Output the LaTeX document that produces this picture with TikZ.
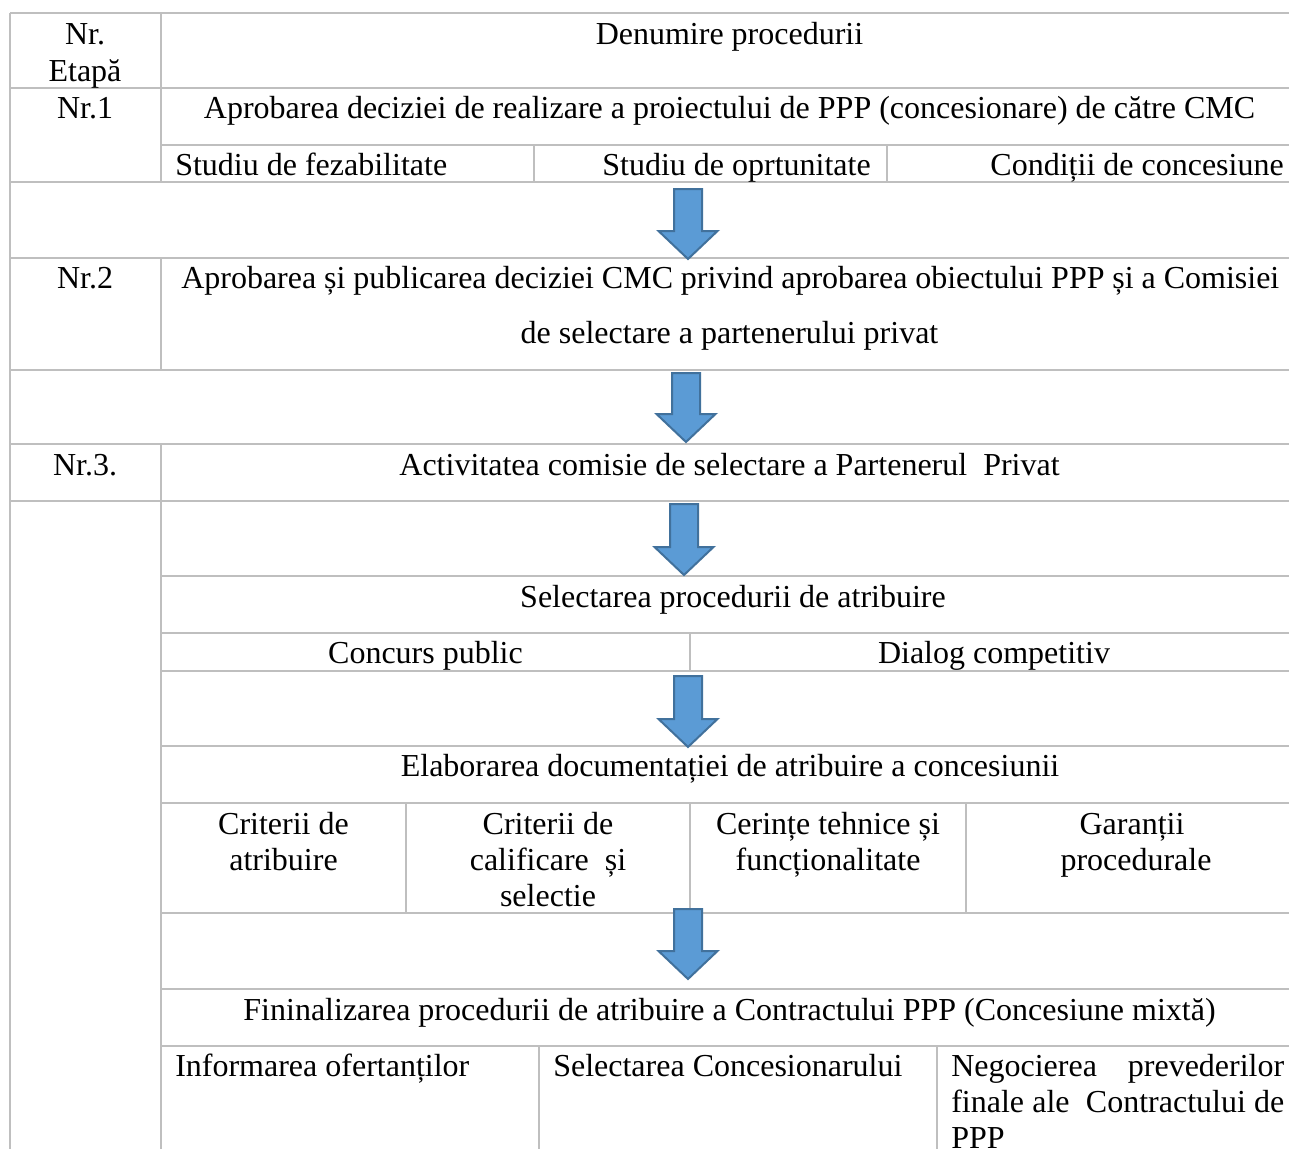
\documentclass[tikz,border=0pt]{standalone}
\usepackage{fontspec}
\setmainfont{Liberation Serif}
\newdimen\pxu \pxu=0.75pt
\definecolor{gridgray}{HTML}{BFBFBF}
\definecolor{arrowblue}{HTML}{5B9BD5}
\definecolor{arrowedge}{HTML}{41719C}
\newcommand\blockarrow[3]{% center x, top y, tip y
  \draw[downarrow] ({#1-14},#2) -- ({#1+14},#2) -- ({#1+14},{#3-28}) -- ({#1+29.5},{#3-28})
    -- (#1,#3) -- ({#1-29.5},{#3-28}) -- ({#1-14},{#3-28}) -- cycle;}
\begin{document}
\begin{tikzpicture}[x=0.75pt,y=-0.75pt,
  grid/.style={draw=gridgray, line width=1pt},
  txt/.style={inner sep=0, anchor=base, font=\fontsize{24}{27.5}\selectfont},
  txtl/.style={txt, anchor=base west},
  txtr/.style={txt, anchor=base east},
  downarrow/.style={fill=arrowblue, draw=arrowedge, line width=1.5pt, line join=miter}]
\useasboundingbox (0,0) rectangle (1289,1149);
\clip (0,0) rectangle (1289,1149);
\fill[white] (0,0) rectangle (1289,1149);
% horizontal grid lines
\foreach \yy in {13,88,182,258,370,444,501}
  \draw[grid] (10,\yy) -- (1289,\yy);
\foreach \yy in {145,576,633,671,746,803,913,989,1046}
  \draw[grid] (161,\yy) -- (1289,\yy);
% vertical grid lines
\draw[grid] (10,13) -- (10,1149);
\draw[grid] (161,13) -- (161,182);
\draw[grid] (161,258) -- (161,370);
\draw[grid] (161,444) -- (161,1149);
\draw[grid] (534,145) -- (534,182);
\draw[grid] (887,145) -- (887,182);
\draw[grid] (690,633) -- (690,671);
\draw[grid] (406,803) -- (406,913);
\draw[grid] (690,803) -- (690,913);
\draw[grid] (966,803) -- (966,913);
\draw[grid] (539,1046) -- (539,1149);
\draw[grid] (937,1046) -- (937,1149);
% arrows
\blockarrow{688}{189}{259}
\blockarrow{686}{373}{442}
\blockarrow{684}{504}{575}
\blockarrow{688}{676}{747}
\blockarrow{688}{909}{979}
% header
\node[txt] (nr) at (85,45) {Nr.};
\node[txt] (etapa) at (85,82) {Etapă};
\node[txt] (den) at (729.5,45) {Denumire procedurii};
% stage 1
\node[txt] (nr1) at (85,118) {Nr.1};
\node[txt] (s1) at (729.5,118) {Aprobarea deciziei de realizare a proiectului de PPP (concesionare) de către CMC};
\node[txtl] (s1a) at (175,175) {Studiu de fezabilitate};
\node[txtr] (s1b) at (871,175) {Studiu de oprtunitate};
\node[txtr] (s1c) at (1284,175) {Condiții de concesiune};
% stage 2
\node[txt] (nr2) at (85,288) {Nr.2};
\node[txtl] (s2a) at (181,288) {\makebox[1098\pxu][s]{Aprobarea și publicarea deciziei CMC privind aprobarea obiectului PPP și a Comisiei}};
\node[txt] (s2b) at (729.5,343) {de selectare a partenerului privat};
% stage 3
\node[txt] (nr3) at (85,475) {Nr.3.};
\node[txt] (s3) at (729.5,475) {Activitatea comisie de selectare a Partenerul\ \ Privat};
\node[txt] (sel) at (733,607) {Selectarea procedurii de atribuire};
\node[txt] (conc) at (425.5,663) {Concurs public};
\node[txt] (dial) at (994,663) {Dialog competitiv};
\node[txt] (elab) at (730,776) {Elaborarea documentației de atribuire a concesiunii};
\node[txt] (c1a) at (283.5,834) {Criterii de};
\node[txt] (c1b) at (283.5,870) {atribuire};
\node[txt] (c2a) at (548,834) {Criterii de};
\node[txt] (c2b) at (548,870) {calificare\ \ și};
\node[txt] (c2c) at (548,906) {selectie};
\node[txt] (c3a) at (828,834) {Cerințe tehnice și};
\node[txt] (c3b) at (828,870) {funcționalitate};
\node[txt] (c4a) at (1132,834) {Garanții};
\node[txt] (c4b) at (1136,870) {procedurale};
\node[txt] (fin) at (729.5,1020) {Fininalizarea procedurii de atribuire a Contractului PPP (Concesiune mixtă)};
\node[txtl] (f1) at (175,1076) {Informarea ofertanților};
\node[txtl] (f2) at (553,1076) {Selectarea Concesionarului};
\node[txtl] (f3a) at (951,1076) {\makebox[333\pxu][s]{Negocierea prevederilor}};
\node[txtl] (f3b) at (951,1112) {\makebox[333\pxu][s]{finale ale\ \ Contractului de}};
\node[txtl] (f3c) at (951,1148) {PPP};
\end{tikzpicture}
\end{document}
